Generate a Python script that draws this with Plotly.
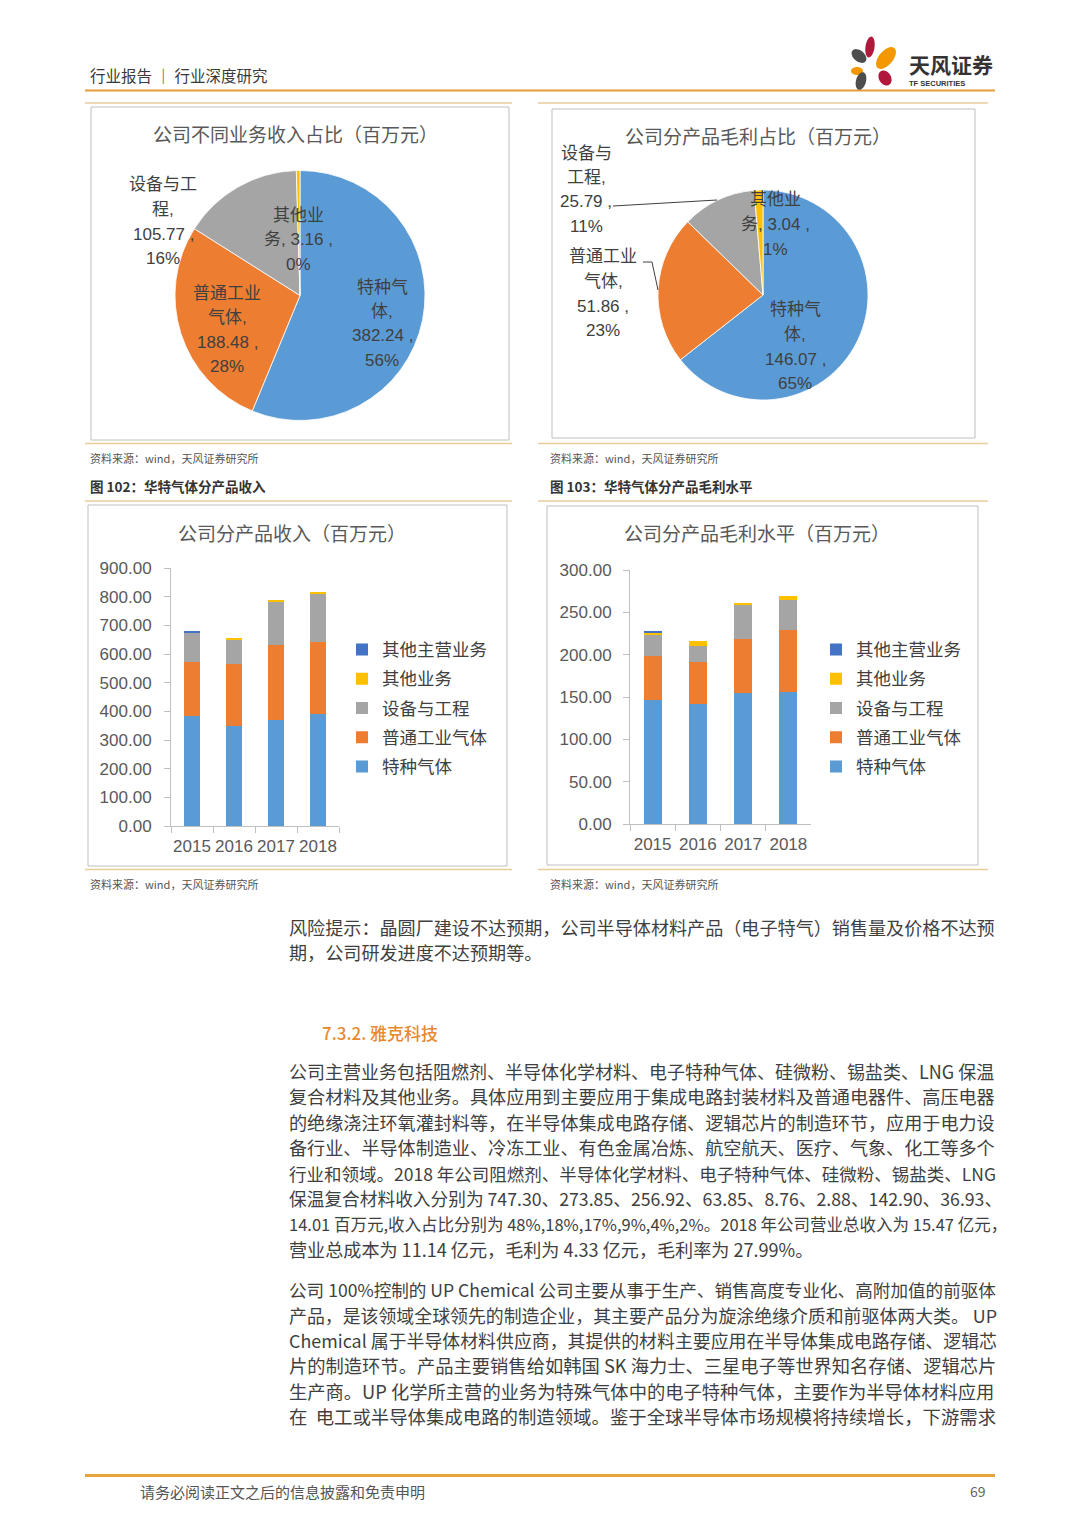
import math
import plotly.graph_objects as go

W, H = 1080, 1527

# ---------------- data ----------------
pie1_names = ['特种气体', '普通工业气体', '设备与工程', '其他业务']
pie1_values = [382.24, 188.48, 105.77, 3.16]
pie1_pcts = ['56%', '28%', '16%', '0%']

pie2_names = ['特种气体', '普通工业气体', '设备与工程', '其他业务']
pie2_values = [146.07, 51.86, 25.79, 3.04]
pie2_pcts = ['65%', '23%', '11%', '1%']

years = ['2015', '2016', '2017', '2018']
series_names = ['特种气体', '普通工业气体', '设备与工程', '其他业务', '其他主营业务']

rev_special = [382.24, 349.0, 369.0, 391.0]
rev_general = [188.48, 215.0, 261.0, 250.0]
rev_equip = [105.77, 87.0, 151.0, 167.0]
rev_other = [0.0, 6.0, 7.0, 8.0]
rev_other_main = [5.0, 0.0, 0.0, 0.0]

gp_special = [146.07, 141.8, 154.3, 155.9]
gp_general = [51.86, 49.7, 63.9, 72.8]
gp_equip = [25.79, 18.4, 39.9, 35.3]
gp_other = [3.04, 5.9, 3.5, 5.5]
gp_other_main = [1.0, 0.0, 0.0, 0.0]

rev_ticks = [0, 100, 200, 300, 400, 500, 600, 700, 800, 900]
gp_ticks = [0, 50, 100, 150, 200, 250, 300]

colors = {'特种气体': '#5B9BD5', '普通工业气体': '#ED7D31', '设备与工程': '#A5A5A5',
          '其他业务': '#FFC000', '其他主营业务': '#4472C4'}

CJK = 'Noto Sans CJK SC'
CHART_FONT = 'Liberation Sans, Noto Sans CJK SC'


def X(px):
    return px / W


def Y(py):
    return 1 - py / H


fig = go.Figure()

# ---------------- pies ----------------
for names, vals, dom in [
    (pie1_names, pie1_values, (175, 425, 170.5, 420.5)),
    (pie2_names, pie2_values, (658, 868, 190, 400)),
]:
    fig.add_trace(go.Pie(
        labels=names, values=vals, sort=False, direction='clockwise', rotation=0,
        marker=dict(colors=[colors[n] for n in names], line=dict(color='white', width=0.8)),
        textinfo='none', showlegend=False, automargin=False,
        domain=dict(x=[X(dom[0]), X(dom[1])], y=[Y(dom[3]), Y(dom[2])]),
    ))

# ---------------- bars ----------------
rev_series = [rev_special, rev_general, rev_equip, rev_other, rev_other_main]
gp_series = [gp_special, gp_general, gp_equip, gp_other, gp_other_main]
for i, (name, vals) in enumerate(zip(series_names, rev_series)):
    fig.add_trace(go.Bar(x=years, y=vals, name=name, marker=dict(color=colors[name], line=dict(width=0)),
                         xaxis='x', yaxis='y', legend='legend', legendgroup='a' + name,
                         legendrank=100 - i))
for i, (name, vals) in enumerate(zip(series_names, gp_series)):
    fig.add_trace(go.Bar(x=years, y=vals, name=name, marker=dict(color=colors[name], line=dict(width=0)),
                         xaxis='x2', yaxis='y2', legend='legend2', legendgroup='b' + name,
                         legendrank=100 - i))

axis_common = dict(showgrid=False, zeroline=False, linecolor='#BFBFBF', linewidth=1, showline=True,
                   tickcolor='#BFBFBF', ticks='outside', ticklen=6, automargin=False,
                   tickfont=dict(family=CHART_FONT, size=17, color='#595959'))

fig.update_layout(
    width=W, height=H, margin=dict(l=0, r=0, t=0, b=0, pad=0, autoexpand=False),
    paper_bgcolor='white', plot_bgcolor='white',
    barmode='stack', bargap=0.6,
    xaxis=dict(domain=[X(171), X(339)], anchor='y', type='category', tickson='boundaries',
               tickangle=0, ticklabelstandoff=5, **axis_common),
    yaxis=dict(domain=[Y(826), Y(568)], anchor='x', range=[0, 900], tickvals=rev_ticks,
               tickformat='.2f', ticklabelstandoff=9, **axis_common),
    xaxis2=dict(domain=[X(630), X(811)], anchor='y2', type='category', tickson='boundaries',
                tickangle=0, ticklabelstandoff=5, **axis_common),
    yaxis2=dict(domain=[Y(824), Y(570)], anchor='x2', range=[0, 300], tickvals=gp_ticks,
                tickformat='.2f', ticklabelstandoff=8, **axis_common),
    legend=dict(x=X(342), y=Y(631.5), xanchor='left', yanchor='top', traceorder='grouped',
                tracegroupgap=3.5, font=dict(family=CJK, size=17.5, color='#404040'),
                bgcolor='rgba(0,0,0,0)'),
    legend2=dict(x=X(816), y=Y(631.5), xanchor='left', yanchor='top', traceorder='grouped',
                 tracegroupgap=3.5, font=dict(family=CJK, size=17.5, color='#404040'),
                 bgcolor='rgba(0,0,0,0)'),
)

shapes = []
annotations = []


def line(x0, y0, x1, y1, color, width):
    shapes.append(dict(type='line', xref='paper', yref='paper', x0=X(x0), y0=Y(y0), x1=X(x1), y1=Y(y1),
                       line=dict(color=color, width=width)))


def rect(x0, y0, x1, y1, color='#BFBFBF', width=1):
    shapes.append(dict(type='rect', xref='paper', yref='paper', x0=X(x0), y0=Y(y0), x1=X(x1), y1=Y(y1),
                       line=dict(color=color, width=width), fillcolor='rgba(0,0,0,0)'))


def text(x, y, s, size, color='#404040', anchor='left', family=CJK, weight=None):
    f = dict(family=family, size=size, color=color)
    if weight:
        f['weight'] = weight
    annotations.append(dict(xref='paper', yref='paper', x=X(x), y=Y(y), text=s, showarrow=False,
                            xanchor=anchor, yanchor='middle', font=f, align=anchor if anchor != 'center' else 'center'))


# header
text(88, 75, '行业报告 ｜ 行业深度研究', 15.5, '#3a3a3a')
line(85, 90.5, 995, 90.5, '#E59B3A', 2.2)


# logo petals (decorative ellipses)
def ellipse(cx, cy, rx, ry, ang, color):
    a = math.radians(ang)
    pts = []
    for i in range(40):
        t = 2 * math.pi * i / 40
        ex, ey = rx * math.cos(t), ry * math.sin(t)
        px = cx + ex * math.cos(a) - ey * math.sin(a)
        py = cy + ex * math.sin(a) + ey * math.cos(a)
        pts.append((X(px), Y(py)))
    path = 'M' + ' L'.join(f'{p[0]:.5f},{p[1]:.5f}' for p in pts) + ' Z'
    shapes.append(dict(type='path', xref='paper', yref='paper', path=path, fillcolor=color,
                       line=dict(width=0)))


ellipse(870, 47, 4.5, 10.5, 8, '#B0183C')
ellipse(886, 58, 7, 13, 40, '#F39800')
ellipse(859, 56, 5.5, 8.5, -50, '#4D4D4D')
ellipse(857, 71, 6, 4, 0, '#F39800')
ellipse(861, 81, 5, 9, 15, '#4D4D4D')
ellipse(885, 78, 6, 8, -30, '#B0183C')
text(907, 64, '天风证券', 21, '#333333', weight=700)
text(907, 83, 'TF SECURITIES', 7.5, '#333333', family='Liberation Sans', weight=700)

# chart frames
TAN = '#EACB9C'
line(85, 103, 512, 103, TAN, 1.5)
line(538, 103, 988, 103, TAN, 1.5)
rect(91, 107, 509, 440)
rect(552, 109, 975, 438)
line(85, 443.5, 512, 443.5, TAN, 1.5)
line(538, 443.5, 988, 443.5, TAN, 1.5)
text(88, 458, '资料来源：wind，天风证券研究所', 11, '#555555')
text(548, 458, '资料来源：wind，天风证券研究所', 11, '#555555')
text(88, 486, '图 102：华特气体分产品收入', 13.5, '#333333', weight=700)
text(548, 486, '图 103：华特气体分产品毛利水平', 13.5, '#333333', weight=700)
line(85, 501, 512, 501, TAN, 1.5)
line(538, 501, 988, 501, TAN, 1.5)
rect(88, 505, 507, 866)
rect(547, 506, 978, 865)
line(85, 869.5, 512, 869.5, TAN, 1.5)
line(538, 869.5, 988, 869.5, TAN, 1.5)
text(88, 884, '资料来源：wind，天风证券研究所', 11, '#555555')
text(548, 884, '资料来源：wind，天风证券研究所', 11, '#555555')

# chart titles
text(295, 133, '公司不同业务收入占比（百万元）', 19, '#595959', 'center')
text(758, 135, '公司分产品毛利占比（百万元）', 19, '#595959', 'center')
text(292, 532, '公司分产品收入（百万元）', 19, '#595959', 'center')
text(757, 533, '公司分产品毛利水平（百万元）', 19, '#595959', 'center')


# pie labels
def pie_lines(name, val, pct, wrap, join):
    parts = [name[i:i + wrap] for i in range(0, len(name), wrap)]
    last = parts[-1] + ','
    if join:
        return parts[:-1] + [f'{last} {val:.2f} ,', pct]
    return parts[:-1] + [last, f'{val:.2f} ,', pct]


pie1_label_pos = [(382, 287), (227, 293), (163, 185), (298, 215)]
pie1_wrap = [3, 4, 4, 3]
pie1_join = [False, False, False, True]
pie2_label_pos = [(795, 310), (603, 257), (586, 153), (775, 200)]
pie2_wrap = [3, 4, 3, 3]
pie2_join = [False, False, False, True]

for names, vals, pcts, poss, wraps, joins in [
    (pie1_names, pie1_values, pie1_pcts, pie1_label_pos, pie1_wrap, pie1_join),
    (pie2_names, pie2_values, pie2_pcts, pie2_label_pos, pie2_wrap, pie2_join),
]:
    for n, v, p, pos, wr, jn in zip(names, vals, pcts, poss, wraps, joins):
        for k, ln in enumerate(pie_lines(n, v, p, wr, jn)):
            text(pos[0], pos[1] + k * 24.5, ln, 17, '#404040', 'center', family=CHART_FONT)

# leader lines pie 2
line(613, 206, 717, 200, '#404040', 1)
shapes.append(dict(type='path', xref='paper', yref='paper',
                   path=f'M{X(643)},{Y(262)} L{X(652)},{Y(262)} L{X(658)},{Y(290)}',
                   line=dict(color='#404040', width=1)))

# body text (font size per line approximates the justified column width)
BODY = '#3f3f3f'
body_lines = [
    (927, 18.1, '风险提示：晶圆厂建设不达预期，公司半导体材料产品（电子特气）销售量及价格不达预'),
    (952, 18.1, '期，公司研发进度不达预期等。'),
    (1071, 18.0, '公司主营业务包括阻燃剂、半导体化学材料、电子特种气体、硅微粉、锡盐类、LNG 保温'),
    (1096, 18.1, '复合材料及其他业务。具体应用到主要应用于集成电路封装材料及普通电器件、高压电器'),
    (1122, 18.1, '的绝缘浇注环氧灌封料等，在半导体集成电路存储、逻辑芯片的制造环节，应用于电力设'),
    (1147, 18.1, '备行业、半导体制造业、冷冻工业、有色金属冶炼、航空航天、医疗、气象、化工等多个'),
    (1173, 17.5, '行业和领域。2018 年公司阻燃剂、半导体化学材料、电子特种气体、硅微粉、锡盐类、LNG'),
    (1198, 17.7, '保温复合材料收入分别为 747.30、273.85、256.92、63.85、8.76、2.88、142.90、36.93、'),
    (1224, 16.5, '14.01 百万元,收入占比分别为 48%,18%,17%,9%,4%,2%。2018 年公司营业总收入为 15.47 亿元，'),
    (1249, 18.1, '营业总成本为 11.14 亿元，毛利为 4.33 亿元，毛利率为 27.99%。'),
    (1289, 17.6, '公司 100%控制的 UP Chemical 公司主要从事于生产、销售高度专业化、高附加值的前驱体'),
    (1315, 17.9, '产品，是该领域全球领先的制造企业，其主要产品分为旋涂绝缘介质和前驱体两大类。 UP'),
    (1340, 17.9, 'Chemical 属于半导体材料供应商，其提供的材料主要应用在半导体集成电路存储、逻辑芯'),
    (1365, 18.3, '片的制造环节。产品主要销售给如韩国 SK 海力士、三星电子等世界知名存储、逻辑芯片'),
    (1391, 18.3, '生产商。UP 化学所主营的业务为特殊气体中的电子特种气体，主要作为半导体材料应用'),
    (1416, 18.4, '在  电工或半导体集成电路的制造领域。鉴于全球半导体市场规模将持续增长，下游需求'),
]
for yy, sz, s in body_lines:
    text(287, yy, s, sz, BODY)

text(320, 1032, '7.3.2. 雅克科技', 17, '#E8892E', weight=500)

# footer
line(85, 1475.5, 995, 1475.5, '#E8A33D', 3)
text(138, 1491, '请务必阅读正文之后的信息披露和免责申明', 15, '#555555')
text(988, 1491, '69', 14, '#666666', 'right')

fig.update_layout(shapes=shapes, annotations=annotations)
fig.write_html(
    'out.html',
    config={'displayModeBar': False},
    post_script=("var d=document.getElementById('{plot_id}');"
                 "document.documentElement.style.margin='0';document.body.style.margin='0';"
                 "document.body.style.padding='0';document.body.style.overflow='hidden';"
                 "document.documentElement.style.overflow='hidden';"
                 "d.style.position='fixed';d.style.top='0px';d.style.left='0px';"),
)
